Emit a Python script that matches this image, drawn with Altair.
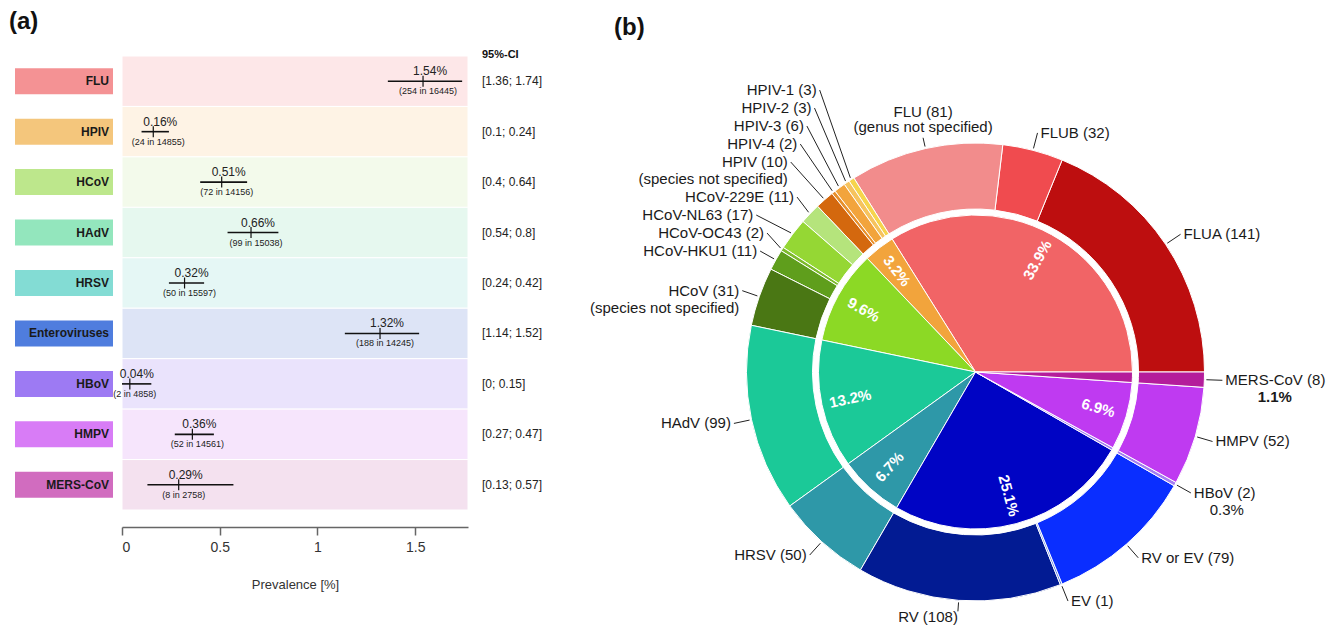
import math
import altair as alt
import pandas as pd

# ---------------- (a) forest plot data ----------------
viruses = ["FLU", "HPIV", "HCoV", "HAdV", "HRSV", "Enteroviruses", "HBoV", "HMPV", "MERS-CoV"]
prev_est = [1.54, 0.16, 0.51, 0.66, 0.32, 1.32, 0.04, 0.36, 0.29]
ci_lo = [1.36, 0.10, 0.40, 0.54, 0.24, 1.14, 0.00, 0.27, 0.13]
ci_hi = [1.74, 0.24, 0.64, 0.80, 0.42, 1.52, 0.15, 0.47, 0.57]
n_events = [254, 24, 72, 99, 50, 188, 2, 52, 8]
n_total = [16445, 14855, 14156, 15038, 15597, 14245, 4858, 14561, 2758]
x_ticks = [0, 0.5, 1, 1.5]
x_max = 1.77

# ---------------- (b) sunburst data (counter-clockwise from 3 o'clock) ----------------
inner_groups = ["FLU", "HPIV", "HCoV", "HAdV", "HRSV", "RV/EV", "HBoV", "HMPV", "MERS-CoV"]
outer_names = ["FLUA", "FLUB", "FLU", "HPIV-1", "HPIV-2", "HPIV-3", "HPIV-4", "HPIV",
               "HCoV-229E", "HCoV-NL63", "HCoV-OC43", "HCoV-HKU1", "HCoV",
               "HAdV", "HRSV", "RV", "EV", "RV or EV", "HBoV", "HMPV", "MERS-CoV"]
outer_counts = [141, 32, 81, 3, 3, 6, 2, 10,
                11, 17, 2, 11, 31,
                99, 50, 108, 1, 79, 2, 52, 8]
outer_group = ["FLU", "FLU", "FLU", "HPIV", "HPIV", "HPIV", "HPIV", "HPIV",
               "HCoV", "HCoV", "HCoV", "HCoV", "HCoV",
               "HAdV", "HRSV", "RV/EV", "RV/EV", "RV/EV", "HBoV", "HMPV", "MERS-CoV"]
outer_notes = ["", "", "(genus not specified)", "", "", "", "", "(species not specified)",
               "", "", "", "", "(species not specified)",
               "", "", "", "", "", "", "", ""]

# ---------------- styles ----------------
box_colors = ["#F49294", "#F4C67C", "#BDE78C", "#93E6BD", "#83DCD4", "#4F7DDE", "#9D7AF3", "#D87CF6", "#D16CBF"]
band_colors = ["#FDE7E8", "#FEF3E5", "#F3FAEB", "#E6F8EF", "#E5F7F5", "#DDE4F6", "#EAE3FC", "#F6E5FC", "#F4E1EF"]
inner_colors = ["#F16466", "#F2A43C", "#8CD925", "#1BC998", "#2E98A8", "#0004C4", "#A47EF2", "#BF3AF1", "#B41D9B"]
outer_colors = ["#BD0E0F", "#F04B4F", "#F28C8C", "#F6D44C", "#F6C35E", "#F2A43C", "#E8902C", "#D4680E",
                "#B5E47C", "#95D734", "#7DBB2B", "#5F9E1C", "#4A7714",
                "#1BC998", "#2E98A8", "#021B93", "#5A7BE0", "#0A2EFF", "#A47EF2", "#BF3AF1", "#B41D9B"]
pct_outside_bold = {"HBoV": False, "MERS-CoV": True}

FONT = "Liberation Sans"
PT, PB = 10, 98           # svg padding top / bottom
OX, OY = 8, 8 + PT        # page position of the plot origin
W, H = 1324, 527 - OY
X0, X1 = 122 - OX, 468 - OX
Y0, Y1 = 56 - OY, 510 - OY
CX, CY = 975.5 - OX, 372 - OY
R_IN, R_OUT0, R_OUT1 = 157, 163, 229
FS = 15
LH_IN = 17
LH_REPEL = 18

# ---------------- (a) table ----------------
fdf = pd.DataFrame({
    "virus": viruses, "est": prev_est, "lo": ci_lo, "hi": ci_hi,
    "ev": n_events, "tot": n_total,
    "box_col": box_colors, "band_col": band_colors,
})
fdf["pct_lbl"] = [f"{v:.2f}%" for v in prev_est]
fdf["cnt_lbl"] = [f"({e} in {t})" for e, t in zip(n_events, n_total)]
fdf["ci_lbl"] = [f"[{a:g}; {b:g}]" for a, b in zip(ci_lo, ci_hi)]

xs = alt.Scale(domain=[0, x_max], range=[X0, X1], nice=False, zero=False)
ys = alt.Scale(domain=viruses, range=[Y0, Y1], paddingInner=0, paddingOuter=0)
Yv = alt.Y("virus:N", scale=ys, axis=None, sort=viruses)

base = alt.Chart(fdf)
bands = base.mark_rect(stroke="white", strokeWidth=1).encode(
    y=Yv,
    x=alt.XDatum(0.0, scale=xs, axis=None),
    x2=alt.X2Datum(x_max),
    color=alt.Color("band_col:N", scale=None),
)
boxes = base.mark_tick(orient="horizontal", size=98, thickness=26, opacity=1).encode(
    y=Yv, x=alt.value(64 - OX), color=alt.Color("box_col:N", scale=None)
)
box_txt = base.mark_text(align="right", baseline="middle", fontSize=12, fontWeight="bold",
                         font=FONT, color="#1a1a1a").encode(y=Yv, x=alt.value(109 - OX), text="virus:N")
ci_rule = base.mark_rule(color="#111", strokeWidth=1.6).encode(
    y=Yv,
    x=alt.X("lo:Q", scale=xs, axis=alt.Axis(
        values=x_ticks, format="~g", title="Prevalence [%]", grid=False,
        labelFontSize=14, titleFontSize=13, titleFontWeight="normal",
        labelFont=FONT, titleFont=FONT, labelColor="#333", titleColor="#333",
        domainColor="#666", domainWidth=1.5, tickColor="#666", tickWidth=1.5,
        tickSize=8, labelPadding=5, titlePadding=24)),
    x2="hi:Q",
)
est_tick = base.mark_tick(orient="vertical", size=11, thickness=1.2, color="#111", opacity=1).encode(
    y=Yv, x=alt.X("est:Q", scale=xs, axis=None))
pct_txt = base.mark_text(dx=7, dy=-10, fontSize=12, font=FONT, color="#222").encode(
    y=Yv, x=alt.X("est:Q", scale=xs, axis=None), text="pct_lbl:N")
cnt_txt = base.mark_text(dx=5, dy=10, fontSize=9, font=FONT, color="#222").encode(
    y=Yv, x=alt.X("est:Q", scale=xs, axis=None), text="cnt_lbl:N")
ci_txt = base.mark_text(align="left", fontSize=12, font=FONT, color="#222").encode(
    y=Yv, x=alt.value(482 - OX), text="ci_lbl:N")

def annot(txt, x, y, size, align="left", weight="bold"):
    return alt.Chart(pd.DataFrame({"t": [txt]})).mark_text(
        align=align, baseline="middle", fontSize=size, fontWeight=weight, font=FONT, color="#111"
    ).encode(text="t:N", x=alt.value(x - OX), y=alt.value(y - OY))

hdr_ci = annot("95%-CI", 482, 55, 11)
lab_a = annot("(a)", 9, 22, 24)
lab_b = annot("(b)", 614, 28, 24)

# ---------------- (b) tables ----------------
total = sum(outer_counts)
inner_counts = [sum(c for c, g in zip(outer_counts, outer_group) if g == grp) for grp in inner_groups]
idf = pd.DataFrame({"grp": inner_groups, "n": inner_counts, "idx": range(len(inner_groups)), "col": inner_colors})
odf = pd.DataFrame({"name": outer_names, "n": outer_counts, "idx": range(len(outer_names)), "col": outer_colors})

ts = alt.Scale(domain=[0, total], range=[math.pi / 2, 5 * math.pi / 2])
inner_arc = alt.Chart(idf).mark_arc(innerRadius=0, outerRadius=R_IN, stroke="white", strokeWidth=1).encode(
    theta=alt.Theta("n:Q", stack=True, scale=ts),
    order=alt.Order("idx:Q", sort="descending"),
    color=alt.Color("col:N", scale=None),
    x=alt.value(CX), y=alt.value(CY),
)
outer_arc = alt.Chart(odf).mark_arc(innerRadius=R_OUT0, outerRadius=R_OUT1, stroke="white", strokeWidth=1).encode(
    theta=alt.Theta("n:Q", stack=True, scale=ts),
    order=alt.Order("idx:Q", sort="descending"),
    color=alt.Color("col:N", scale=None),
    x=alt.value(CX), y=alt.value(CY),
)

# inner percentage labels (radial)
pin = []
cum = 0
for grp, n in zip(inner_groups, inner_counts):
    a0 = cum / total * 360
    cum += n
    a1 = cum / total * 360
    share = 100 * n / total
    if share < 2:
        continue
    phi = math.radians((a0 + a1) / 2)
    cs, sn = math.cos(phi), math.sin(phi)
    rot = -math.degrees(phi) if cs >= 0 else 180 - math.degrees(phi)
    pin.append({"px": CX + 128 * cs, "py": CY - 128 * sn, "rot": rot % 360, "t": f"{share:.1f}%"})
pin_df = pd.DataFrame(pin)
inner_txt = alt.Chart(pin_df).mark_text(fontSize=15, fontWeight="bold", font=FONT, color="white",
                                         align="center", baseline="middle").encode(
    x=alt.X("px:Q", scale=None, axis=None), y=alt.Y("py:Q", scale=None, axis=None),
    angle=alt.Angle("rot:Q", scale=None), text="t:N")

# outer labels with leader lines
items = []
cum = 0
for nm, c, g, note in zip(outer_names, outer_counts, outer_group, outer_notes):
    a0 = cum / total * 360
    cum += c
    a1 = cum / total * 360
    phi = math.radians((a0 + a1) / 2)
    cs, sn = math.cos(phi), math.sin(phi)
    lines = [f"{nm} ({c})"] + ([note] if note else [])
    pct_line = None
    if g in pct_outside_bold:
        gi = inner_groups.index(g)
        pct_line = (f"{100 * inner_counts[gi] / total:.1f}%", pct_outside_bold[g])
    if abs(cs) < 0.22 and sn > 0:
        kind, align = "top", "center"
    elif sn < -0.95:
        kind, align = "bottom", ("right" if cs < 0 else "left")
    else:
        kind, align = "side", ("left" if cs > 0 else "right")
    r_end = 240 if kind != "side" else 247
    items.append({
        "lines": lines, "pct": pct_line, "kind": kind, "align": align,
        "sx": CX + (R_OUT1 + 2) * cs, "sy": CY - (R_OUT1 + 2) * sn,
        "ex": CX + r_end * cs, "ey": CY - r_end * sn,
    })
    items[-1]["y"] = items[-1]["ey"]

# simple repel for side labels; strongly pushed labels slide outward a little
left = sorted([it for it in items if it["kind"] == "side" and it["align"] == "right"], key=lambda d: -d["ey"])
prev_top = 1e9
for it in left:
    n = len(it["lines"]) + (1 if it["pct"] else 0)
    it["y"] = min(it["ey"], prev_top - LH_REPEL - LH_IN * (n - 1))
    if it["ey"] - it["y"] > 8:
        it["ex"] -= 22
    prev_top = it["y"]
right = sorted([it for it in items if it["kind"] == "side" and it["align"] == "left"], key=lambda d: d["ey"])
prev_bot = -1e9
for it in right:
    n = len(it["lines"]) + (1 if it["pct"] else 0)
    it["y"] = max(it["ey"], prev_bot + LH_REPEL)
    if it["y"] - it["ey"] > 8:
        it["ex"] += 22
    prev_bot = it["y"] + LH_IN * (n - 1)

lead_rows, txt_rows = [], []
for it in items:
    lead_rows.append({"x": it["sx"], "y": it["sy"], "x2": it["ex"], "y2": it["y"]})
    lines = it["lines"]
    if it["kind"] == "top":
        ys0 = it["ey"] - 11 - 15 * (len(lines) - 1)
        tx = it["ex"]
        step = 15
    elif it["kind"] == "bottom":
        ys0 = it["ey"] + 6
        tx = it["ex"]
        step = LH_IN
    else:
        ys0 = it["y"]
        tx = it["ex"] + (3 if it["align"] == "left" else -3)
        step = LH_IN
    for k, s in enumerate(lines):
        txt_rows.append({"x": tx, "y": ys0 + k * step, "t": s, "align": it["align"], "w": "normal"})
    if it["pct"]:
        wid = len(lines[0]) * 0.55 * FS
        cxl = tx + wid / 2 if it["align"] == "left" else (tx - wid / 2 if it["align"] == "right" else tx)
        txt_rows.append({"x": cxl, "y": ys0 + len(lines) * step, "t": it["pct"][0], "align": "center",
                         "w": "bold" if it["pct"][1] else "normal"})

lead_df = pd.DataFrame(lead_rows)
txt_df = pd.DataFrame(txt_rows)

leaders = alt.Chart(lead_df).mark_rule(color="#222", strokeWidth=1).encode(
    x=alt.X("x:Q", scale=None, axis=None), y=alt.Y("y:Q", scale=None, axis=None),
    x2="x2:Q", y2="y2:Q")

label_layers = []
for (al, wt), sub in txt_df.groupby(["align", "w"]):
    label_layers.append(
        alt.Chart(sub.reset_index(drop=True)).mark_text(
            align=al, baseline="middle", fontSize=FS, fontWeight=wt, font=FONT, color="#1a1a1a"
        ).encode(x=alt.X("x:Q", scale=None, axis=None), y=alt.Y("y:Q", scale=None, axis=None), text="t:N")
    )

chart = alt.layer(
    bands, boxes, box_txt, ci_rule, est_tick, pct_txt, cnt_txt, ci_txt, hdr_ci, lab_a, lab_b,
    inner_arc, outer_arc, inner_txt, leaders, *label_layers
).resolve_axis(x="independent", y="independent").properties(
    width=W, height=H, autosize="none",
    padding={"left": 0, "top": PT, "right": 0, "bottom": PB},
).configure(font=FONT).configure_view(stroke=None, strokeWidth=0)

chart.save("out.html", embed_options={"renderer": "svg", "actions": False})
